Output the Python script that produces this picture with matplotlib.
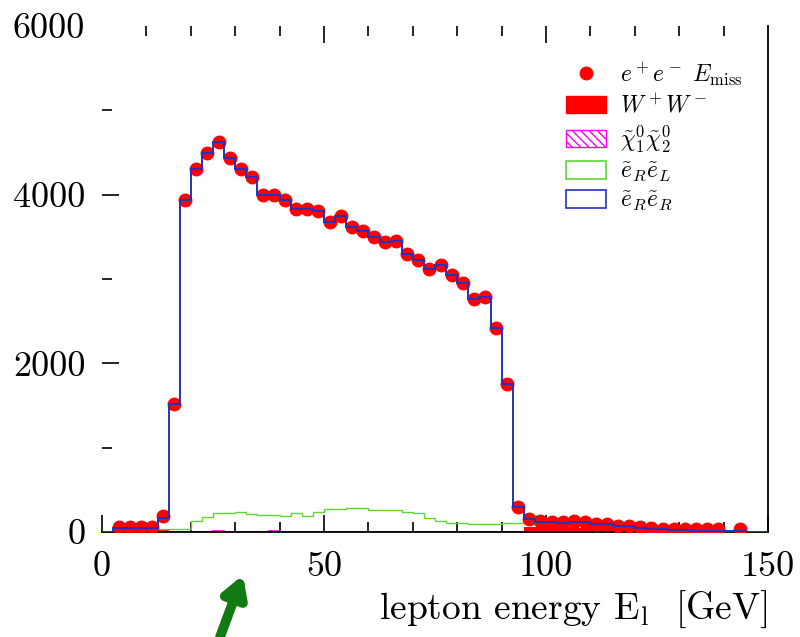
import numpy as np
import matplotlib.pyplot as plt
from matplotlib.patches import Rectangle
from matplotlib.lines import Line2D

plt.rcParams['font.family'] = ['cmr10', 'DejaVu Serif']
plt.rcParams['mathtext.fontset'] = 'cm'
plt.rcParams['axes.unicode_minus'] = False

# bins of 2.5 GeV from 0 to 150
bin_edges = np.arange(0, 152.5, 2.5)
bin_centers = bin_edges[:-1] + 1.25

# measured points (e+e- E_miss), one value per bin, nan = no point
data_counts = [np.nan, 60, 60, 55, 60, 190, 1520, 3940, 4300, 4490,
               4620, 4430, 4310, 4210, 4000, 4000, 3940, 3830, 3830, 3810,
               3680, 3750, 3620, 3570, 3500, 3440, 3450, 3300, 3230, 3120,
               3170, 3050, 2950, 2760, 2790, 2420, 1760, 290, 155, 125,
               120, 115, 125, 120, 95, 95, 75, 70, 55, 45,
               35, 30, 30, 30, 30, 30, np.nan, 30, np.nan, np.nan]

# total of the model (blue step)
total_counts = [0, 50, 50, 50, 50, 170, 1520, 3940, 4300, 4490,
                4620, 4430, 4310, 4210, 4000, 4000, 3940, 3830, 3830, 3810,
                3680, 3750, 3620, 3570, 3500, 3440, 3450, 3300, 3230, 3120,
                3170, 3050, 2950, 2760, 2790, 2420, 1760, 290, 150, 120,
                115, 110, 120, 115, 90, 90, 70, 65, 50, 40,
                30, 25, 20, 15, 10, 10, 5, 5, 0, 0]

# e_R e_L (green step)
ereL_counts = [0, 0, 0, 0, 40, 40, 40, 40, 130, 175,
               225, 225, 240, 215, 200, 200, 190, 225, 190, 240,
               270, 275, 285, 285, 260, 260, 260, 240, 225, 165,
               130, 107, 107, 95, 95, 95, 107, 107, 110, 105,
               95, 90, 85, 80, 70, 60, 50, 40, 30, 20,
               15, 10, 5, 0, 0, 0, 0, 0, 0, 0]

# chi1 chi2 (magenta hatched)
chi_counts = [0] * 10 + [10] + [0] * 4 + [10] + [0] * 44

# W+W- (red filled)
ww_counts = [0, 30, 30, 30, 30, 30] + [0] * 32 + [60, 60, 60, 60, 60, 50, 50, 40, 40, 30, 30, 20] + [0] * 10

fig = plt.figure(figsize=(8, 6.37), dpi=100)
ax = fig.add_axes([0.1275, 0.165, 0.8325, 0.794])

ax.stairs(ww_counts, bin_edges, fill=True, color='red', zorder=2)
ax.stairs(chi_counts, bin_edges, fill=False, color='magenta', hatch='\\\\\\', lw=1.2, zorder=2)
ax.stairs(ereL_counts, bin_edges, color='#5fd633', lw=1.0, zorder=2)
ax.plot(bin_centers, data_counts, 'o', color='red', ms=9, mec='red', zorder=3)
ax.stairs(total_counts, bin_edges, color='#2233bb', lw=1.4, zorder=4)

ax.set_xlim(0, 150)
ax.set_ylim(0, 6000)
for s in ['left', 'top']:
    ax.spines[s].set_visible(False)
ax.spines['bottom'].set_linewidth(1.3)
ax.spines['right'].set_linewidth(1.3)

ax.set_xticks([0, 50, 100, 150])
ax.set_xticks(np.arange(10, 150, 10), minor=True)
ax.set_yticks([0, 2000, 4000, 6000])
ax.set_yticks([1000, 3000, 5000], minor=True)
ax.tick_params(axis='both', which='both', direction='in', labelsize=26, width=1.2,
               top=True, right=False, color='black')
ax.tick_params(axis='both', which='major', length=12)
ax.tick_params(axis='both', which='minor', length=7)
ax.tick_params(axis='x', pad=14)
ax.tick_params(axis='y', pad=12)

# no tick marks at the frame corners
xt = ax.xaxis.get_major_ticks()
for i in (0, -1):
    xt[i].tick2line.set_visible(False)
yt = ax.yaxis.get_major_ticks()
for i in (0, -1):
    yt[i].tick1line.set_visible(False)

ax.set_xlabel(r'lepton energy E$_{\rm l}$  [GeV]', fontsize=27, loc='right', labelpad=4)

handles = [
    Line2D([], [], marker='o', color='red', ls='none', ms=9),
    Rectangle((0, 0), 1, 1, facecolor='red', edgecolor='red'),
    Rectangle((0, 0), 1, 1, facecolor='white', edgecolor='magenta', hatch='\\\\\\\\'),
    Rectangle((0, 0), 1, 1, facecolor='white', edgecolor='#5fd633', lw=1.2),
    Rectangle((0, 0), 1, 1, facecolor='white', edgecolor='#2233bb', lw=1.2),
]
labels = [r'$e^+e^-\ E_{\rm miss}$', r'$W^+W^-$', r'$\tilde\chi^0_1\tilde\chi^0_2$',
          r'$\tilde e_R\tilde e_L$', r'$\tilde e_R\tilde e_R$']
ax.legend(handles, labels, loc='upper left', bbox_to_anchor=(0.665, 0.975), frameon=False,
          fontsize=17, handlelength=1.7, handleheight=0.75, labelspacing=0.25, handletextpad=0.6)

# green arrow below the axis
ax.annotate('', xy=(243, 62), xycoords='figure pixels', xytext=(220, 0),
            textcoords='figure pixels',
            arrowprops=dict(arrowstyle='-|>,head_length=1.2,head_width=0.7', color='#127a12',
                            lw=7, shrinkA=0, shrinkB=0))

fig.savefig('out.png', dpi=100)
